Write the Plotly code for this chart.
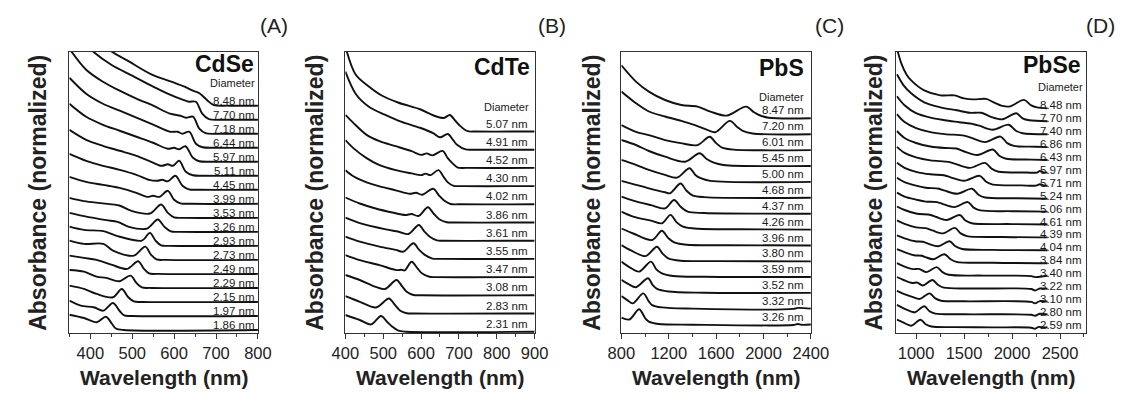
import plotly.graph_objects as go

# ---------------- data (bottom curve first); points are (wavelength nm, absorbance a.u. above the curve's own baseline)
CDSE_DIAMETERS = ["1.86", "1.97", "2.15", "2.29", "2.49", "2.73", "2.93", "3.26", "3.53",
                  "3.99", "4.45", "5.11", "5.97", "6.44", "7.18", "7.70", "8.48"]
CDSE_SPECTRA = [
    [(350, 15.3), (385, 12), (415, 7.7), (437, 13.3), (452, 6), (461, 1.5), (480, 0), (800, 0)],
    [(350, 15.3), (377, 10.3), (408, 8.7), (431, 5.3), (454, 13), (470, 5), (481, 0.5), (500, 0), (800, 0)],
    [(350, 16.3), (385, 13), (415, 8), (454, 4.7), (475, 13), (490, 5), (504, 0.5), (525, 0), (800, 0)],
    [(350, 18), (385, 16.3), (415, 11.3), (438, 10), (469, 6.7), (496, 12.3), (510, 5), (523, 0.5), (545, 0), (800, 0)],
    [(350, 18.3), (385, 16), (415, 14), (450, 9.3), (488, 5), (514, 12.7), (528, 5), (540, 0.5), (560, 0), (800, 0)],
    [(350, 19.3), (385, 16), (431, 16), (454, 9.3), (504, 4.3), (531, 13.3), (545, 5), (558, 0.5), (580, 0), (800, 0)],
    [(350, 19.3), (385, 16), (431, 14.7), (461, 10.3), (523, 5.3), (542, 13), (556, 5), (569, 0.5), (590, 0), (800, 0)],
    [(350, 19), (385, 15.7), (438, 11.7), (465, 10), (492, 5), (535, 3.3), (561, 12.3), (577, 5), (592, 0.5), (615, 0), (800, 0)],
    [(350, 20), (385, 16.7), (430, 14.5), (469, 12.3), (500, 6.7), (542, 4.3), (569, 13.3), (585, 5), (600, 0.5), (625, 0), (800, 0)],
    [(350, 27), (390, 22), (430, 19), (470, 16), (510, 11), (535, 7), (550, 8), (565, 7), (585, 13), (600, 4), (615, 0.5), (640, 0), (800, 0)],
    [(350, 36), (390, 29), (430, 24), (470, 20), (510, 15), (540, 10), (560, 9), (572, 10), (585, 8.5), (603, 14), (620, 4), (635, 0.5), (660, 0), (800, 0)],
    [(350, 46), (390, 36), (430, 30), (470, 25), (510, 20), (545, 14), (570, 10), (585, 11.5), (597, 10), (612, 15), (628, 4), (645, 0.5), (670, 0), (800, 0)],
    [(350, 58), (390, 45), (430, 37), (470, 31), (510, 25), (550, 19), (585, 13), (600, 14), (612, 12.5), (627, 15.5), (645, 4), (660, 0.5), (690, 0), (800, 0)],
    [(350, 70), (390, 54), (430, 44), (470, 37), (510, 30), (550, 23), (590, 16), (608, 16), (620, 14), (636, 16), (652, 4), (668, 0.5), (700, 0), (800, 0)],
    [(350, 85), (390, 64), (430, 52), (470, 43), (510, 35), (550, 28), (590, 20), (615, 18), (628, 16), (645, 17), (660, 5), (675, 0.5), (710, 0), (800, 0)],
    [(350, 100), (380, 80), (410, 67), (450, 55), (500, 44), (550, 33), (590, 25), (620, 20), (635, 18), (652, 18), (667, 6), (683, 0.5), (720, 0), (800, 0)],
    [(350, 115), (380, 92), (410, 75), (442, 57), (493, 44), (547, 31), (593, 24), (625, 19), (645, 15), (662, 12), (680, 5), (695, 0.5), (730, 0), (800, 0)],
]

CDTE_DIAMETERS = ["2.31", "2.83", "3.08", "3.47", "3.55", "3.61", "3.86", "4.02", "4.30", "4.52", "4.91", "5.07"]
CDTE_SPECTRA = [
    [(400, 16.7), (438, 11.7), (468, 7.3), (494, 15.7), (510, 10), (524, 5), (540, 1), (560, 0), (900, 0)],
    [(400, 17.3), (438, 11.7), (481, 6), (515, 15), (530, 9), (545, 2.7), (562, 0.3), (580, 0), (900, 0)],
    [(400, 20.3), (438, 15.3), (480, 8.5), (505, 6.3), (535, 15.3), (550, 9), (562, 3.5), (580, 0.3), (600, 0), (900, 0)],
    [(400, 22), (438, 17), (490, 12), (535, 7), (548, 7.3), (557, 6.7), (575, 15.3), (590, 9), (603, 3.5), (622, 0.3), (640, 0), (900, 0)],
    [(400, 22.3), (438, 17.3), (490, 12.3), (533, 9), (553, 7.3), (580, 15.7), (595, 9), (610, 4), (630, 0.3), (650, 0), (900, 0)],
    [(400, 23), (438, 17.5), (507, 11.3), (541, 9), (567, 6.7), (594, 15.7), (609, 9), (623, 4), (642, 0.3), (660, 0), (900, 0)],
    [(400, 25), (438, 19), (480, 14), (524, 10), (558, 7.5), (575, 8.5), (593, 6.5), (618, 15.2), (633, 9), (648, 3.2), (668, 0.3), (690, 0), (900, 0)],
    [(400, 34), (421, 28), (456, 22), (490, 18), (533, 14), (570, 10.5), (587, 11.5), (603, 9.5), (632, 15.5), (647, 9), (660, 4), (678, 0.3), (700, 0), (900, 0)],
    [(400, 46), (421, 38), (456, 28), (490, 21), (533, 16), (575, 12.7), (600, 11), (612, 12.5), (625, 11), (646, 16), (660, 9), (670, 4), (686, 0.3), (710, 0), (900, 0)],
    [(400, 53), (421, 45), (456, 33), (490, 26.7), (533, 21.7), (575, 16.7), (600, 13), (615, 14.5), (630, 12.5), (657, 17), (670, 10), (682, 5), (697, 0.3), (720, 0), (900, 0)],
    [(400, 78), (427, 56), (462, 43), (504, 35), (547, 28), (599, 21.7), (633, 16.4), (650, 12.4), (671, 15.7), (684, 10), (695, 5), (718, 0.3), (740, 0), (900, 0)],
    [(400, 85), (427, 57), (462, 45), (496, 36), (539, 29), (599, 22), (633, 16), (660, 13.5), (676, 16.5), (690, 11), (702, 6), (723, 0.3), (745, 0), (900, 0)],
]

PBS_DIAMETERS = ["3.26", "3.32", "3.52", "3.59", "3.80", "3.96", "4.26", "4.37", "4.68", "5.00", "5.45", "6.01", "7.20", "8.47"]
PBS_SPECTRA = [
    [(800, 7.3), (868, 5.5), (950, 15.7), (1000, 7), (1032, 3.3), (1114, 1), (1400, 0.3), (2250, 0), (2290, 1), (2320, 0.2), (2400, 0.5)],
    [(800, 13), (850, 9), (896, 5.7), (985, 15.7), (1030, 8), (1060, 4), (1142, 1.7), (1400, 0.5), (2250, 0.2), (2290, 1.2), (2400, 0.5)],
    [(800, 13.3), (860, 9), (923, 6), (1025, 15), (1065, 8), (1101, 4.3), (1196, 1.7), (1500, 0.5), (2400, 0.3)],
    [(800, 15.7), (870, 10), (950, 5.7), (1050, 15.7), (1095, 8), (1142, 4), (1237, 1.3), (1500, 0.5), (2400, 0.3)],
    [(800, 16.3), (880, 11), (1005, 5.3), (1100, 14.7), (1150, 7.5), (1196, 3), (1300, 0.7), (1600, 0.3), (2400, 0)],
    [(800, 17), (900, 12), (1060, 5.5), (1142, 14.8), (1195, 7.5), (1251, 2.8), (1350, 0.8), (1700, 0.3), (2400, 0)],
    [(800, 18), (900, 13), (1050, 9), (1142, 6.3), (1215, 14.7), (1265, 7.5), (1320, 3), (1450, 0.8), (1800, 0.3), (2400, 0)],
    [(800, 17), (900, 13), (1050, 8.5), (1169, 5.3), (1245, 13.7), (1300, 7), (1360, 2), (1500, 0.7), (2400, 0)],
    [(800, 17), (923, 13), (1032, 9.5), (1169, 5.5), (1210, 4.5), (1300, 14.3), (1350, 7), (1400, 2.5), (1500, 0.7), (2400, 0)],
    [(800, 22), (923, 17), (1032, 12), (1169, 7), (1270, 4.3), (1375, 13.7), (1425, 7), (1470, 3.7), (1550, 1), (2400, 0)],
    [(800, 26), (923, 21), (1032, 15), (1169, 9.3), (1340, 4.3), (1460, 12.7), (1520, 7), (1580, 3.3), (1661, 1), (2400, 0)],
    [(800, 25), (923, 18.3), (1032, 15), (1169, 10), (1300, 7), (1442, 5), (1545, 13.3), (1600, 7), (1650, 2.5), (1750, 0.5), (2400, 0)],
    [(800, 42.7), (923, 31), (1032, 22.7), (1169, 17.7), (1306, 13.3), (1415, 9.3), (1525, 4.3), (1593, 2), (1716, 13.3), (1780, 7), (1825, 3.3), (1907, 0.7), (2400, 0)],
    [(800, 53), (923, 36.7), (1032, 26.7), (1169, 18.3), (1306, 13.3), (1443, 11.7), (1552, 6.7), (1689, 2.7), (1853, 11.7), (1920, 6), (1962, 3.3), (2044, 0.5), (2400, 0)],
]

PBSE_DIAMETERS = ["2.59", "2.80", "3.10", "3.22", "3.40", "3.84", "4.04", "4.39", "4.61",
                  "5.06", "5.24", "5.71", "5.97", "6.43", "6.86", "7.40", "7.70", "8.48"]
PBSE_SPECTRA = [
    [(800, 8), (870, 5), (950, 2), (1045, 8), (1100, 3.5), (1160, 1.2), (1400, 0.6), (1800, 0.3), (2200, 0), (2240, -1), (2280, 0.8), (2330, 0.2), (2370, 0.5)],
    [(800, 10), (860, 7), (960, 3), (990, 2.5), (1085, 8.5), (1140, 3.5), (1200, 1.2), (1500, 0.5), (2200, 0), (2240, -1), (2290, 1), (2370, 0.3)],
    [(800, 11), (870, 8), (960, 5), (1040, 3), (1140, 8.5), (1200, 3.5), (1260, 1.2), (1500, 0.6), (2200, 0), (2240, -1.5), (2290, 0.8), (2370, 0.3)],
    [(800, 12), (870, 9), (960, 6), (1010, 6.5), (1070, 3.5), (1170, 9), (1230, 4), (1290, 1.3), (1600, 0.5), (2200, 0), (2240, -1.5), (2290, 0.5), (2370, 0.3)],
    [(800, 13), (880, 9.5), (970, 7), (1030, 7.2), (1110, 4), (1215, 9), (1275, 4), (1340, 1.3), (1700, 0.5), (2200, 0), (2240, -1), (2370, 0.3)],
    [(800, 14), (880, 11), (980, 8), (1060, 7.5), (1100, 6), (1180, 4), (1295, 9), (1360, 4), (1420, 1.3), (1800, 0.4), (2370, 0)],
    [(800, 15), (880, 12), (990, 9), (1070, 8.5), (1130, 6.5), (1230, 4), (1350, 9), (1410, 4), (1480, 1.3), (1800, 0.4), (2370, 0)],
    [(800, 17), (880, 13.5), (1000, 10), (1112, 9), (1170, 7), (1280, 4), (1405, 9.5), (1465, 4), (1530, 1.3), (1900, 0.4), (2370, 0)],
    [(800, 18), (880, 14.5), (1000, 11), (1153, 9.5), (1210, 7.5), (1320, 4.5), (1455, 9.5), (1515, 4), (1580, 1.3), (2000, 0.4), (2370, 0)],
    [(800, 19), (880, 15), (1000, 12), (1100, 10), (1220, 9.5), (1280, 7.5), (1400, 4.5), (1540, 9.5), (1600, 4), (1670, 1.2), (2000, 0.4), (2370, 0)],
    [(800, 21), (880, 16.5), (1000, 13), (1100, 11), (1238, 10), (1300, 8), (1430, 5), (1585, 10), (1650, 4), (1720, 1.2), (2050, 0.4), (2370, 0)],
    [(800, 23), (880, 18), (1000, 14), (1150, 11.5), (1290, 10.5), (1360, 8.5), (1500, 5), (1665, 10), (1730, 4), (1800, 1.2), (2100, 0.4), (2250, 0.2), (2290, 1.5), (2330, 0.3), (2370, 0)],
    [(800, 26), (880, 20), (1000, 15.5), (1150, 12.5), (1340, 11), (1410, 9), (1560, 5), (1720, 10), (1790, 4), (1860, 1.2), (2150, 0.4), (2260, 0.3), (2290, 2), (2330, 0.5), (2370, 0.3)],
    [(800, 29), (880, 22), (1000, 17), (1150, 13.5), (1300, 12), (1420, 11.5), (1490, 9), (1640, 5), (1800, 10.5), (1870, 4), (1940, 1.2), (2200, 0.4), (2370, 0)],
    [(800, 33), (880, 25), (1000, 19), (1150, 15), (1300, 13), (1500, 11.5), (1570, 9.5), (1720, 5), (1880, 10.5), (1950, 4), (2020, 1.2), (2250, 0.4), (2370, 0)],
    [(800, 38), (880, 29), (1000, 21), (1150, 16.5), (1300, 14), (1450, 12), (1600, 10), (1660, 8.5), (1800, 4.5), (1965, 9.5), (2040, 3.5), (2110, 1), (2370, 0)],
    [(800, 47), (870, 36), (949, 28), (1085, 19), (1255, 14), (1424, 11), (1560, 8.5), (1680, 8.5), (1780, 4.5), (1900, 2), (2045, 8), (2110, 3), (2180, 1), (2370, 0)],
    [(800, 60), (850, 44), (900, 34), (949, 28), (1085, 18), (1255, 13), (1400, 13), (1500, 10), (1600, 9), (1730, 9.5), (1800, 6.5), (1900, 2.5), (1980, 2), (2125, 8.5), (2200, 3), (2260, 1), (2370, 0)],
]

# ---------------- layout geometry (pixels of the 1135x395 page)
W, H = 1135, 395
FONT = "Liberation Sans, Arial, Helvetica, sans-serif"
PLOT_TOP, PLOT_BOTTOM = 52, 333
Y_SPAN = PLOT_BOTTOM - PLOT_TOP

PANELS = [
    dict(material="CdSe", letter="(A)", diam=CDSE_DIAMETERS, spectra=CDSE_SPECTRA,
         xr=[350, 800], dtick=100, minor=50, px=(57, 251), base0=3.0, step=14.02,
         lab_x=798, lab_dy=5, diam_xy=(250, 83), mat_xy=(249, 64), let_xy=(268, 25), ytit_x=25),
    dict(material="CdTe", letter="(B)", diam=CDTE_DIAMETERS, spectra=CDTE_SPECTRA,
         xr=[400, 900], dtick=100, minor=50, px=(341, 535.7), base0=1.3, step=18.2,
         lab_x=888, lab_dy=8, diam_xy=(532, 107), mat_xy=(533, 67), let_xy=(554, 25), ytit_x=310),
    dict(material="PbS", letter="(C)", diam=PBS_DIAMETERS, spectra=PBS_SPECTRA,
         xr=[800, 2400], dtick=400, minor=200, px=(625, 820), base0=8.0, step=15.9,
         lab_x=2359, lab_dy=8, diam_xy=(815, 97), mat_xy=(815, 68), let_xy=(839, 25), ytit_x=595),
    dict(material="PbSe", letter="(D)", diam=PBSE_DIAMETERS, spectra=PBSE_SPECTRA,
         xr=[795, 2770], dtick=500, minor=250, px=(908, 1103), base0=5.3, step=12.9,
         lab_x=2755, lab_dy=3, diam_xy=(1102, 87), mat_xy=(1100, 65), let_xy=(1118, 25), ytit_x=885),
]


def fx(p):
    return p / W


def fy(p):
    return 1 - p / H


fig = go.Figure()
annotations = []
layout_axes = {}

for k, P in enumerate(PANELS):
    n = k + 1
    xa = "x" if n == 1 else f"x{n}"
    ya = "y" if n == 1 else f"y{n}"
    for j, spec in enumerate(P["spectra"]):
        base = P["base0"] + P["step"] * j
        fig.add_trace(go.Scatter(
            x=[p[0] for p in spec], y=[base + p[1] for p in spec],
            mode="lines", line=dict(color="#111111", width=1.9, shape="spline", smoothing=0.9),
            xaxis=xa, yaxis=ya, showlegend=False, hoverinfo="skip"))
        annotations.append(dict(
            x=P["lab_x"], y=base + P["lab_dy"], xref=xa, yref=ya, text=P["diam"][j] + " nm",
            showarrow=False, xanchor="right", yanchor="middle",
            font=dict(family=FONT, size=11.5, color="#1a1a1a")))

    layout_axes["xaxis" if n == 1 else f"xaxis{n}"] = dict(
        domain=[fx(P["px"][0]), fx(P["px"][1])], range=P["xr"], anchor=ya,
        showline=True, mirror=True, linecolor="#333333", linewidth=1,
        ticks="outside", ticklen=5, tickwidth=1, tickcolor="#333333",
        dtick=P["dtick"], tick0=0, showgrid=False, zeroline=False,
        minor=dict(ticks="outside", ticklen=3, tickwidth=1, tickcolor="#333333", dtick=P["minor"], tick0=0, showgrid=False),
        tickfont=dict(family=FONT, size=16.5, color="#222222"), fixedrange=True)
    layout_axes["yaxis" if n == 1 else f"yaxis{n}"] = dict(
        domain=[fy(PLOT_BOTTOM), fy(PLOT_TOP)], range=[0, Y_SPAN], anchor=xa,
        showline=True, mirror=True, linecolor="#333333", linewidth=1,
        ticks="", showticklabels=False, showgrid=False, zeroline=False, fixedrange=True)

    annotations.append(dict(x=fx(P["diam_xy"][0]), y=fy(P["diam_xy"][1]), xref="paper", yref="paper",
                            text="Diameter", showarrow=False, xanchor="right", yanchor="middle",
                            font=dict(family=FONT, size=11, color="#1a1a1a")))
    annotations.append(dict(x=fx(P["mat_xy"][0]), y=fy(P["mat_xy"][1]), xref="paper", yref="paper",
                            text="<b>" + P["material"] + "</b>", showarrow=False, xanchor="right", yanchor="middle",
                            font=dict(family=FONT, size=23, color="#111111")))
    annotations.append(dict(x=fx(P["let_xy"][0]), y=fy(P["let_xy"][1]), xref="paper", yref="paper",
                            text=P["letter"], showarrow=False, xanchor="center", yanchor="middle",
                            font=dict(family=FONT, size=21, color="#222222")))
    annotations.append(dict(x=fx(P["ytit_x"]), y=fy((PLOT_TOP + PLOT_BOTTOM) / 2), xref="paper", yref="paper",
                            text="<b>Absorbance (normalized)</b>", showarrow=False, textangle=-90,
                            xanchor="center", yanchor="middle",
                            font=dict(family=FONT, size=23, color="#222222")))
    annotations.append(dict(x=fx((P["px"][0] + P["px"][1]) / 2), y=fy(377), xref="paper", yref="paper",
                            text="<b>Wavelength (nm)</b>", showarrow=False, xanchor="center", yanchor="middle",
                            font=dict(family=FONT, size=21, color="#222222")))

fig.update_layout(
    width=W, height=H, margin=dict(l=0, r=0, t=0, b=0), autosize=False,
    paper_bgcolor="white", plot_bgcolor="white", showlegend=False,
    annotations=annotations, **layout_axes)

fig.write_html("out.html", config={"displayModeBar": False})
